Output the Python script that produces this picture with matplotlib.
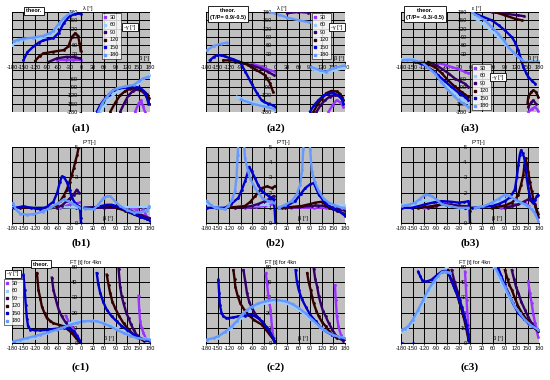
import numpy as np
import matplotlib
matplotlib.use("Agg")
import matplotlib.pyplot as plt
from matplotlib.lines import Line2D
from matplotlib.ticker import FuncFormatter

plt.rcParams['font.family'] = ['Liberation Sans', 'DejaVu Sans']
plt.rcParams['axes.unicode_minus'] = False

GAMMAS = [30, 60, 90, 120, 150, 180]
COLORS = ['#9933FF', '#99CCFF', '#330066', '#330000', '#0000CC', '#6699FF']
XTICKS = list(range(-180, 181, 30))

# ---- row a : lambda [deg] vs beta [deg] ----
A1 = {
    30: [(-62, 8), (-40, 8), (-20, 8), (0, 8), None, (141, -180), (150, -150), (156, -138), (162, -160), (167, -180)],
    60: [(-180, 60), (-160, 76), (-130, 84), (-100, 88), (-75, 100), (-55, 135), (-35, 165), (-15, 178), None,
         (50, -180), (70, -140), (95, -105), (120, -95), (150, -75), (170, -55), (180, -45)],
    90: [(-85, 0), (-63, 13), (-37, 19), (-15, 17), (-2, 13), None, (102, -180), (114, -145), (124, -120), (135, -105),
         (146, -99), (163, -108), (176, -138), (180, -150)],
    120: [(-119, 5), (-108, 22), (-98, 31), (-72, 37), (-45, 43), (-33, 56), (-24, 90), (-15, 104), (-8, 95), (-4, 70),
          (-1, 40), None, (76, -180), (90, -145), (102, -120), (115, -105), (128, -96), (154, -96), (171, -114), (178, -130)],
    150: [(-150, 7), (-140, 35), (-124, 56), (-110, 70), (-98, 78), (-72, 86), (-58, 105), (-45, 140), (-30, 165),
          (-15, 173), (0, 174), None, (41, -180), (50, -155), (59, -138), (72, -118), (85, -101), (100, -95), (119, -92),
          (140, -90), (154, -92), (168, -110), (176, -150)],
    180: [(-176, 74), (-165, 80), (-150, 84), (-124, 88), (-98, 94), (-80, 105), (-72, 112), (-58, 138), (-45, 158),
          (-28, 176), None, (45, -180), (55, -150), (67, -126), (80, -105), (93, -95), (115, -88), (137, -83), (150, -70),
          (163, -59), (176, -53)],
}
A2 = {
    30: [(-62, -6), (-40, -15), (-14, -30), (-2, -35), None, (137, -180), (148, -155), (158, -138), (168, -145), (176, -162)],
    60: [(-100, -125), (-70, -140), (-40, -150), (-10, -160), None, (95, -25), (125, -40), (155, -30), (180, -20)],
    90: [(-105, 0), (-80, -5), (-62, -12), (-40, -22), (-19, -36), (-3, -48), None, (30, 176), (59, 180), (85, 178), None,
         (106, -180), (117, -155), (128, -138), (140, -125), (154, -120), (165, -122), (171, -126)],
    120: [(-135, 6), (-120, 6), (-105, 5), (-85, -3), (-70, -12), (-50, -28), (-27, -48), (-15, -75), (-6, -108), None,
          (98, -180), (110, -150), (120, -132), (132, -112), (145, -104), (158, -106), (167, -114), (176, -138)],
    150: [(-170, 6), (-160, 18), (-152, 24), (-140, 24), (-131, 20), (-110, 10), (-92, 0), (-78, -35), (-62, -78),
          (-48, -112), (-36, -138), (-20, -150), (-6, -156), (-1, -162), None, (89, -180), (100, -155), (111, -138),
          (125, -120), (137, -114), (150, -112), (163, -120), (172, -135), (176, -150)],
    180: [(-178, 42), (-160, 58), (-140, 66), (-125, 70), None, (-90, -135), (-60, -150), (-30, -160), (-5, -168), None,
          (-14, 180), (10, 170), (30, 160), (60, 150), (88, 143), None, (93, -18), (115, -30), (130, -35), (150, -22),
          (180, -12)],
}
A3 = {
    30: [(-83, -4), (-65, -10), (-48, -18), (-30, -26), (-13, -36), (-4, -40), None, (152, -180), (162, -168), (170, -162),
         (178, -175)],
    60: [(-180, 10), (-160, 12), (-140, 8), (-120, -5), (-95, -35), (-65, -80), (-35, -120), (-10, -145), (-3, -150), None,
         (5, 165), (30, 140), (60, 108), (90, 65), (115, 30), (135, 8), (160, 2), (180, 2)],
    90: [(-109, 0), (-90, -10), (-74, -24), (-55, -42), (-39, -60), (-25, -70), (-13, -78), (-4, -90), None, (57, 180),
         (91, 174), (126, 168), (140, 165), None, (152, -162), (160, -145), (165, -138), (172, -150)],
    120: [(-126, 0), (-110, -8), (-91, -18), (-74, -40), (-57, -66), (-40, -88), (-22, -108), (-4, -126), None, (65, 180),
          (91, 168), (117, 156), (135, 150), None, (150, -150), (152, -126), (160, -108), (165, -102), (172, -108),
          (178, -126)],
    150: [(-143, 0), (-130, -5), (-117, -12), (-100, -28), (-83, -48), (-65, -70), (-48, -90), (-30, -110), (-13, -126),
          (-4, -138), None, (13, 174), (35, 162), (57, 150), (75, 132), (91, 114), (109, 90), (118, 70), (126, 42),
          (133, 10), (139, -18), (146, -38), (152, -54), (162, -68), (170, -78)],
    180: [(-178, 6), (-165, 8), (-152, 8), (-140, 4), (-126, 0), (-110, -20), (-91, -42), (-75, -72), (-57, -102),
          (-42, -122), (-30, -138), (-15, -152), (-4, -162), None, (4, 180), (20, 165), (39, 150), (55, 128), (74, 102),
          (88, 78), (100, 54), (113, 35), (126, 18), (135, 8), (143, 0), (161, 0), (178, 0)],
}

# ---- row b : F*T [-] vs beta ----
B1 = {
    30: [(-54, 1), (-40, 1.1), (-28, 1.23), (-11, 1.3), (-3, 1.35), None, (130, 1), (140, 0.95), (145, 0.9), (150, 0.6),
         (154, 0.58), (158, 0.8), (163, 0.9), (168, 0.6), (172, 0.4)],
    60: [(-180, 1.05), (-120, 1.05), (-60, 1.05), (0, 1.0), (60, 1.05), (120, 1.05), (180, 1.05)],
    90: [(-63, 1), (-50, 1.15), (-37, 1.44), (-28, 1.65), (-19, 1.87), (-11, 2.2), (-5, 2.0), None, (10, 1), (60, 1),
         (100, 1), (130, 0.8), (160, 0.5), (180, 0.3)],
    120: [(-158, 1), (-120, 1), (-80, 1), (-65, 1.15), (-54, 1.44), (-45, 1.8), (-37, 2.2), (-30, 2.7), (-24, 3.17),
          (-19, 3.6), (-15, 4.03), (-10, 4.5), (-6, 5.0), (-3, 5.5), None, (15, 1), (40, 1.05), (67, 1.12), (93, 1),
          (115, 0.8), (137, 0.58), (155, 0.4), (171, 0.26)],
    150: [(-176, 1.0), (-160, 1.05), (-150, 1.1), (-130, 1.0), (-106, 0.9), (-90, 1.05), (-72, 1.4), (-62, 2.0),
          (-55, 2.7), (-50, 3.06), (-44, 3.0), (-37, 2.7), (-30, 2.2), (-24, 1.66), (-15, 1.3), (-6, 1.1), (-2, 0.8),
          (-1, 0.3), (0, 0), None, (10, 1), (33, 1), (50, 1.1), (67, 1.2), (80, 1.2), (93, 1.1), (115, 0.85),
          (137, 0.6), (155, 0.4), (171, 0.26), (180, 0.15)],
    180: [(-178, 1.3), (-170, 0.9), (-158, 0.6), (-140, 0.55), (-124, 0.58), (-100, 0.75), (-80, 1.0), (-60, 1.3),
          (-45, 1.55), (-30, 1.4), (-19, 1.23), (-2, 1.0), None, (10, 0.95), (33, 0.9), (45, 1.2), (59, 1.66), (68, 1.75),
          (76, 1.77), (90, 1.4), (102, 1.12), (120, 0.85), (137, 0.69), (155, 0.7), (171, 0.8), (178, 1.1)],
}
B2 = {
    30: [(-79, 1), (-50, 1.05), (-27, 1.12), (-5, 1.23), None, (40, 1), (100, 1), (130, 1), (150, 0.95), (180, 0.85)],
    60: [(-180, 1.3), (-160, 1.1), (-140, 1.05), (-100, 1.1), (-60, 1.15), (-20, 1.2), None, (20, 1.05), (60, 1.1),
         (100, 1.15), (140, 1.1), (180, 1.2)],
    90: [(-105, 1), (-80, 1.05), (-62, 1.12), (-45, 1.25), (-27, 1.44), (-15, 1.6), (-5, 1.77), None, (25, 1), (60, 1.05),
         (94, 1.12), (110, 1.15), (128, 1.12), (155, 1.0), (180, 0.8)],
    120: [(-131, 1), (-105, 1.05), (-79, 1.12), (-65, 1.4), (-53, 1.77), (-45, 2.0), (-35, 2.3), (-22, 2.41), (-9, 2.3),
          (-2, 2.41), None, (16, 1), (40, 1.05), (68, 1.12), (90, 1.25), (103, 1.34), (120, 1.4), (130, 1.2), (138, 1),
          (160, 0.8), (180, 0.58)],
    150: [(-178, 1), (-155, 1), (-131, 1), (-115, 1.25), (-96, 1.66), (-87, 2.2), (-79, 2.74), (-72, 3.3), (-68, 3.7),
          (-62, 3.4), (-53, 2.95), (-45, 2.5), (-35, 2.09), (-18, 1.77), (-5, 1.55), (-2, 0.8), (0, 0), None, (8, 1),
          (30, 1.15), (51, 1.44), (65, 1.9), (77, 2.3), (90, 2.55), (99, 2.63), (105, 2.3), (112, 1.87), (125, 1.45),
          (138, 1.12), (150, 0.95), (164, 0.8), (180, 0.47)],
    180: [(-178, 1.44), (-168, 1.2), (-157, 1), (-131, 0.9), (-122, 1.12), (-113, 1.5), (-105, 2.09), (-101, 3.0),
          (-98, 4.46), (-96, 5.5), None, (-82, 5.5), (-79, 4.25), (-72, 3.5), (-66, 2.95), (-53, 2.3), (-35, 1.66),
          (-20, 1.45), (-5, 1.34), None, (8, 1), (25, 1.2), (42, 1.44), (55, 1.9), (64, 2.52), (69, 3.5), (72, 4.9),
          (74, 5.5), None, (88, 5.5), (90, 4.78), (94, 3.4), (102, 2.7), (112, 2.1), (125, 1.6), (138, 1.34), (155, 1.15),
          (172, 1.0), (180, 1.0)],
}
B3 = {
    30: [(-120, 1), (-90, 1.15), (-65, 1.3), (-40, 1.15), (-15, 1.05), None, (80, 1), (100, 1.1), (117, 1.23), (130, 1.3),
         (143, 1.34), (155, 1.1), (170, 0.8), (178, 0.4)],
    60: [(-180, 1.2), (-150, 1.2), (-120, 1.5), (-100, 1.5), (-70, 1.2), (-30, 1.05), (0, 1.0), None, (20, 1.0), (60, 1.3),
         (90, 1.6), (110, 1.5), (140, 1.2), (160, 1.0), (180, 0.7)],
    90: [(-109, 1), (-90, 1.1), (-74, 1.23), (-50, 1.2), (-22, 1.12), (-5, 1.1), None, (91, 1), (110, 1.1), (126, 1.23),
         (140, 1.4), (152, 1.55), (162, 1.4), (170, 1.23), (178, 0.37)],
    120: [(-135, 1), (-100, 1.1), (-74, 1.23), (-45, 1.1), (-13, 1), None, (57, 1), (90, 1.15), (109, 1.34), (120, 1.6),
          (126, 1.87), (133, 2.5), (139, 3.17), (142, 3.8), (145, 4.25), (148, 3.9), (152, 3.38), (156, 2.7), (161, 2.09),
          (165, 1.6), (170, 1.12), (178, 0.58)],
    150: [(-178, 1), (-152, 1), (-135, 1.1), (-117, 1.23), (-95, 1.35), (-74, 1.44), (-50, 1.4), (-30, 1.34), (-15, 1.38),
          (-4, 1.44), (-1, 0.8), (0, 0), None, (4, 1), (30, 1.05), (57, 1.12), (75, 1.25), (91, 1.44), (105, 1.7),
          (117, 2.2), (122, 3.0), (126, 3.8), (130, 4.5), (133, 4.78), (137, 4.6), (142, 4.25), (145, 3.6), (148, 2.95),
          (152, 2.3), (157, 1.66), (165, 1.34), (170, 1.5), (174, 1.77), (178, 1.85)],
    180: [(-178, 1.12), (-160, 1.2), (-143, 1.34), (-130, 1.6), (-117, 1.87), (-108, 1.85), (-100, 1.77), (-85, 1.5),
          (-74, 1.23), (-50, 1.1), (-30, 1), (-4, 1), None, (13, 1), (35, 1.1), (57, 1.34), (75, 1.6), (91, 1.87),
          (105, 1.75), (117, 1.55), (130, 1.4), (143, 1.23), (161, 0.9), (170, 0.6), (178, 0.15)],
}

# ---- row c : FT [t] for 4kn vs beta ----
C1 = {
    30: [(-40, 18), (-30, 13), (-20, 9), (-10, 5), (-2, 1), None, (150, 31), (152, 22), (154, 14.3), (158, 10),
         (163, 6.6), (170, 2.5)],
    60: [(-180, 0.5), (-150, 1.5), (-120, 3.5), (-90, 6.5), (-63, 9.9), (-40, 12.5), (-11, 14.3), (24, 15), (50, 14),
         (76, 12), (105, 8), (137, 4.4), (160, 3.2), (180, 2.6)],
    90: [(-76, 43), (-72, 35), (-67, 30), (-63, 26), (-57, 21), (-50, 17.5), (-40, 13.5), (-32, 11), (-24, 7.5),
         (-15, 4.4), (-8, 2), (-2, 0), None, (98, 49), (102, 37), (106, 31), (111, 26), (118, 20), (124, 16.4),
         (130, 12.5), (137, 8.8), (145, 5.5), (154, 3.3), (165, 1.5)],
    120: [(-115, 46), (-111, 35), (-106, 29), (-102, 24), (-95, 19.5), (-89, 16.4), (-80, 14.5), (-72, 13), (-58, 12),
          (-45, 11), (-35, 9), (-24, 6.6), (-12, 3), (-2, 0.4), None, (67, 45), (72, 38), (76, 33), (82, 27), (89, 23),
          (100, 17.5), (111, 13), (124, 9), (137, 5.5), (150, 3.2), (163, 1.8)],
    150: [(-176, 0), None, (-150, 45), (-147, 35), (-144, 25), (-141, 16), (-138, 11), (-132, 8.8), (-120, 8.4),
          (-106, 8.3), (-90, 8.6), (-72, 9.2), (-58, 9.6), (-45, 9.9), (-30, 9.5), (-19, 7.7), (-10, 4.5), (-2, 1.1),
          None, (41, 46), (45, 39), (50, 33), (58, 27), (67, 22), (80, 17.5), (93, 14.3), (105, 11.5), (119, 8.8),
          (135, 6), (154, 3.3), (170, 1.8), (180, 1.1)],
    180: [(-176, 1.1), (-160, 2), (-141, 3.3), (-120, 4.5), (-106, 5.5), (-85, 7), (-63, 8.8), (-45, 10.4), (-28, 12),
          (-10, 13.3), (7, 14.3), (25, 14.5), (41, 14.3), (60, 12.8), (76, 11), (95, 8.5), (111, 6.6), (128, 4.8),
          (145, 3.3), (165, 2.6), (180, 2.2)],
}
C2 = {
    30: [(-25, 46), (-22, 39), (-18, 30), (-13, 22), (-9, 10), (-5, 3), None, (154, 38), (156, 28.5), (159, 17.5),
         (163, 11), (169, 5.5), (175, 2)],
    60: [(-180, 1.8), (-150, 3.5), (-115, 9.5), (-88, 16.5), (-60, 22.5), (-30, 26), (0, 27), (25, 26.5), (60, 22),
         (95, 14.5), (130, 7), (180, 3)],
    90: [(-83, 48), (-78, 40), (-74, 33), (-68, 27), (-61, 23), (-52, 19), (-44, 16.4), (-30, 12.5), (-18, 8.8),
         (-8, 4), (-2, 0.5), None, (99, 49), (103, 42), (108, 37), (112, 31), (117, 26), (123, 21), (130, 17.5),
         (138, 13), (147, 8.8), (155, 5.5), (164, 3.3), (175, 1.5)],
    120: [(-109, 48), (-106, 42), (-104, 37), (-98, 31), (-91, 26), (-80, 21.5), (-70, 18.6), (-55, 15), (-35, 12),
          (-18, 6.5), (-2, 1.1), None, (82, 46), (86, 40), (91, 35), (95, 30), (99, 26), (106, 21), (112, 17.5),
          (120, 14), (130, 11), (138, 8), (147, 5.5), (160, 3)],
    150: [(-148, 41.7), (-146, 33), (-144, 25), (-140, 20), (-135, 17.5), (-128, 16.5), (-122, 16.4), (-110, 16.8),
          (-96, 17.5), (-80, 18), (-61, 18.6), (-48, 16.8), (-35, 14.3), (-24, 10.5), (-13, 6.6), (-6, 3.2), (-2, 0.4),
          None, (52, 48), (55, 41), (60, 35), (68, 29), (78, 24), (90, 18.5), (104, 14.3), (117, 10.5), (130, 7.7),
          (147, 5.3), (164, 3.9), (180, 2.6)],
    180: [(-178, 2.2), (-160, 3.3), (-148, 4.4), (-130, 7.5), (-113, 11), (-100, 14.5), (-87, 18.6), (-75, 21.5),
          (-61, 24), (-45, 26), (-26, 27.4), (0, 28.5), (26, 27.4), (45, 25.5), (60, 23), (78, 19.5), (95, 15.4),
          (112, 11.5), (130, 7.7), (150, 5.2), (165, 4), (180, 3.3)],
}
C3 = {
    30: [(-13, 47), (-11, 38), (-9, 28.5), (-7, 20), (-5, 12), (-3, 4.4), None, (152, 40.6), (156, 33), (161, 26),
         (165, 19), (170, 13), (175, 7), (178, 4)],
    60: [(-180, 7), (-165, 9), (-150, 14), (-135, 20), (-120, 27.5), (-100, 37), (-83, 43.5), (-70, 47.5), (-60, 50),
         None, (62, 50), (75, 43), (91, 35), (105, 28.5), (117, 23), (130, 18.5), (143, 14.5), (160, 11), (178, 8.5)],
    90: [(-48, 48), (-40, 40), (-33, 34), (-26, 28), (-20, 22), (-13, 15.4), (-8, 9), (-3, 2), None, (109, 48),
         (115, 42), (120, 37), (126, 33), (134, 27), (143, 22), (152, 17), (161, 13), (170, 10), (178, 8)],
    120: [(-57, 48), (-50, 42), (-42, 37), (-35, 33), (-28, 27), (-22, 22), (-17, 17.5), (-10, 10), (-4, 2.2), None,
          (91, 48), (98, 42), (103, 38), (109, 35), (117, 29.5), (126, 24), (138, 18.5), (152, 14.3), (165, 10.5),
          (178, 7.7)],
    150: [(-178, 0), None, (-148, 0), None, (-135, 47), (-130, 44), (-125, 41.5), (-122, 40.6), (-112, 40.5),
          (-100, 41.7), (-87, 44.5), (-74, 47), (-65, 47.5), (-57, 46), (-48, 41), (-39, 35), (-30, 29.5), (-22, 24),
          (-15, 18), (-9, 12), (-5, 6), (-3, 1.1), None, (74, 49), (82, 44), (90, 38.5), (100, 33), (112, 26),
          (126, 19.7), (140, 16), (152, 13), (165, 10.8), (178, 8.8)],
    180: [(-178, 8.8), (-170, 9.5), (-161, 11), (-150, 15), (-135, 22), (-122, 28.5), (-109, 35), (-96, 40), (-83, 44),
          (-74, 46.5), (-65, 47), (-58, 46.5), (-52, 46), None, (65, 50), (78, 43.5), (91, 37), (104, 30), (117, 24),
          (130, 19.5), (143, 15.4), (160, 11.5), (178, 8.8)],
}

W, H = 550, 380
fig = plt.figure(figsize=(W / 100, H / 100), dpi=100)


def fx(px):
    return px / W


def fy(py):
    return 1 - py / H


COLS = [(12, 150), (206, 345), (401, 539)]
ROWS = {'a': (12, 112), 'b': (147, 223), 'c': (267, 343)}
FS = 4


def make_ax(col, row):
    x0, x1 = COLS[col]
    y0, y1 = ROWS[row]
    ax = fig.add_axes([fx(x0), fy(y1), fx(x1 - x0), (y1 - y0) / H])
    ax.set_facecolor('#C0C0C0')
    ax.set_xlim(-180, 180)
    ax.set_xticks(XTICKS)
    if row == 'a':
        ax.set_ylim(-180, 180)
        ax.set_yticks(range(-180, 181, 30))
        ax.spines['bottom'].set_position(('data', 0))
        ax.yaxis.set_major_formatter(FuncFormatter(lambda v, p: '' if v in (0, -30) else '%d' % v))
    elif row == 'b':
        ax.set_ylim(0, 5)
        ax.set_yticks(range(0, 6))
    else:
        ax.set_ylim(0, 50)
        ax.set_yticks(range(0, 51, 10))
    ax.spines['left'].set_position(('data', 0))
    for s in ['top', 'right']:
        ax.spines[s].set_visible(False)
    for s in ['left', 'bottom']:
        ax.spines[s].set_linewidth(0.8)
        ax.spines[s].set_zorder(3)
    ax.grid(True, color='black', lw=0.7)
    ax.set_axisbelow(True)
    ax.tick_params(labelsize=FS, length=1.5, width=0.5, pad=1)
    return ax


def draw(ax, data):
    for g, c in zip(GAMMAS, COLORS):
        pts = data[g]
        xs = [np.nan if p is None else p[0] for p in pts]
        ys = [np.nan if p is None else p[1] for p in pts]
        ax.plot(xs, ys, '-', color=c, lw=1.7, marker='o', ms=2.0, mew=0, zorder=2)


def legend(ax, px, py):
    handles = [Line2D([], [], ls='none', marker='s', ms=1.8, color=c) for c in COLORS]
    lg = ax.legend(handles, [str(g) for g in GAMMAS], loc='upper left',
                   bbox_to_anchor=(fx(px), fy(py)), bbox_transform=fig.transFigure,
                   fontsize=FS, frameon=True, fancybox=False, edgecolor='black',
                   borderpad=0.35, labelspacing=0.45, handlelength=0.5, handletextpad=0.5,
                   borderaxespad=0)
    lg.get_frame().set_linewidth(0.5)
    lg.set_zorder(10)


def boxtext(px, py, s):
    fig.text(fx(px), fy(py), s, fontsize=FS, ha='center', va='center', fontweight='bold', linespacing=1.3,
             bbox=dict(boxstyle='square,pad=0.35', fc='white', ec='black', lw=0.6), zorder=10)


def gambox(px, py):
    fig.text(fx(px), fy(py), '-γ [°]', fontsize=FS, ha='center', va='center',
             bbox=dict(boxstyle='square,pad=0.35', fc='white', ec='black', lw=0.6), zorder=10)


panels = [('a', 0, A1), ('a', 1, A2), ('a', 2, A3),
          ('b', 0, B1), ('b', 1, B2), ('b', 2, B3),
          ('c', 0, C1), ('c', 1, C2), ('c', 2, C3)]
axes = {}
for row, col, data in panels:
    ax = make_ax(col, row)
    draw(ax, data)
    axes[(row, col)] = ax
    if row == 'a':
        lab = 'λ [°]' if col < 2 else 'ε [°]'
        ax.text(5, 182, lab, fontsize=FS, ha='left', va='bottom', clip_on=False)
        ax.text(165, 4, 'β [°]', fontsize=FS, ha='center', va='bottom')
    elif row == 'b':
        ax.text(3, 5.1, 'F*T[-]', fontsize=FS, ha='left', va='bottom', clip_on=False)
        ax.text(70, 0.15, 'β [°]', fontsize=FS, ha='center', va='bottom')
    else:
        ax.text(12, 51.5, 'FT [t] for 4kn', fontsize=FS, ha='center', va='bottom', clip_on=False)
        ax.text(72, 1.5, 'β [°]', fontsize=FS, ha='center', va='bottom')
    cx = (COLS[col][0] + COLS[col][1]) / 2
    ly = {'a': 128, 'b': 243, 'c': 367}[row]
    fig.text(fx(cx), fy(ly), '(%s%d)' % (row, col + 1), fontsize=8, fontweight='bold',
             family=['Liberation Serif', 'DejaVu Serif'], ha='center', va='center')

legend(axes[('a', 0)], 102, 13)
gambox(130, 27)
boxtext(34, 11, 'theor.')

legend(axes[('a', 1)], 312, 13)
gambox(337, 27)
boxtext(228, 14, 'theor.\n(T/P= 0.9/-0.5)')

legend(axes[('a', 2)], 472, 64)
gambox(498, 77)
boxtext(425, 14, 'theor.\n(T/P= -0.3/-0.5)')

legend(axes[('c', 0)], 4, 279)
gambox(13, 274)
boxtext(41, 264, 'theor.')

fig.savefig('out.png', dpi=100)
